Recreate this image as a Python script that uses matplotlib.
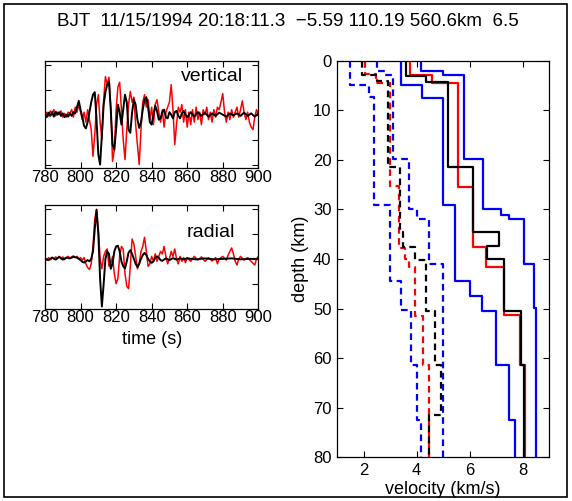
import numpy as np
import matplotlib
matplotlib.use("Agg")
import matplotlib.pyplot as plt
from matplotlib.patches import Rectangle

plt.rcParams["font.family"] = ["Liberation Sans", "DejaVu Sans"]

TITLE = "BJT  11/15/1994 20:18:11.3  \u22125.59 110.19 560.6km  6.5"

# ---- seismograms (time s, normalized amplitude) ----
vert_black_t = [780, 781, 782, 783, 784, 785, 786, 787, 788, 789, 790, 791, 792, 793, 794, 795, 796, 797,
                798, 799, 800, 801, 802, 803, 804, 805, 806, 807, 808, 809, 810, 811, 812, 813, 814, 815,
                816, 817, 818, 819, 820, 821, 822, 823, 824, 825, 826, 827, 828, 829, 830, 831, 832, 833,
                834, 835, 836, 837, 838, 839, 840, 841, 842, 843, 844, 845, 846, 847, 848, 849, 850, 851,
                852, 853, 854, 855, 856, 857, 858, 859, 860, 862, 864, 866, 868, 870, 872, 874, 876, 878,
                880, 882, 884, 886, 888, 890, 892, 894, 896, 898, 900]
vert_black_a = [0.05, -0.1, 0.08, -0.05, 0.1, -0.08, 0.12, 0.0, 0.1, -0.05, 0.05, -0.1, 0.0, -0.08, 0.05,
                -0.05, 0.1, 0.05, 0.3, 0.55, 0.2, -0.1, -0.45, -0.55, -0.3, 0.1, 0.5, 0.8, 0.9, -0.2, -1.6,
                -2.0, -0.8, 0.4, 0.9, 1.2, 1.33, 0.2, -1.2, -1.4, -0.6, 0.4, 0.1, -0.4, 0.2, 0.8, 0.5, -0.6,
                -0.73, 0.1, 0.6, 0.4, -0.2, -0.53, -0.3, 0.2, 0.6, 0.7, 0.3, -0.3, -0.4, 0.0, 0.36, 0.15,
                -0.2, -0.15, 0.1, 0.2, -0.1, -0.15, 0.1, 0.0, -0.15, 0.1, 0.15, -0.05, -0.15, 0.05, 0.15,
                0.0, -0.1, 0.1, -0.08, 0.1, -0.05, 0.08, -0.08, 0.05, -0.05, 0.08, 0.0, -0.08, 0.05, -0.03,
                0.05, -0.05, 0.08, -0.05, 0.05, -0.08, 0.05]

vert_red_t = list(range(780, 901))
vert_red_a = [-0.1, 0.1, -0.05, 0.15, 0.05, 0.2, -0.05, 0.1, 0.0, 0.15, -0.1, 0.05, -0.1, 0.1, 0.05, 0.2,
              -0.1, 0.3, 0.1, 0.4, 0.1, -0.2, 0.1, -0.3, 0.2, -0.2, -0.6, -1.67, -0.8, 0.4, 0.8, -0.3,
              -1.0, 0.6, 1.53, 1.2, 1.5, 0.3, -1.87, -1.4, 0.2, 1.1, 1.3, 0.2, -1.0, -1.8, -0.6, 0.4,
              0.93, 0.5, 0.7, -0.4, -1.2, -2.0, -0.6, 0.5, 0.8, 0.3, 0.6, -0.2, 0.3, -0.4, 0.4, 0.6, 0.1,
              -0.3, 0.2, -0.5, 0.1, 0.3, 0.5, 1.2, 0.2, -1.2, -0.4, 0.3, 0.1, 0.4, -0.3, 0.2, -0.5, 0.1,
              -0.4, 0.2, -0.3, 0.3, -0.2, 0.1, -0.4, 0.2, 0.0, 0.3, -0.2, 0.1, -0.3, 0.2, -0.1, 0.3, 0.2,
              0.5, 0.84, 0.1, -0.3, 0.1, -0.2, 0.2, -0.1, 0.1, 0.3, -0.1, 0.2, 0.55, 0.1, -0.2, 0.1, -0.3,
              -0.5, -0.6, -0.1, 0.2, 0.0]

rad_black_t = [780, 782, 784, 786, 788, 790, 792, 794, 796, 798, 800, 801, 802, 803, 804, 805, 806, 807,
               808, 809, 810, 811, 812, 813, 814, 815, 816, 817, 818, 819, 820, 821, 822, 823, 824, 825,
               826, 827, 828, 829, 830, 831, 832, 833, 834, 835, 836, 837, 838, 839, 840, 841, 842, 843,
               844, 845, 846, 848, 850, 852, 854, 856, 858, 860, 865, 870, 875, 880, 885, 890, 895, 900]
rad_black_a = [0.0, -0.05, 0.05, -0.03, 0.08, -0.03, 0.05, 0.02, 0.08, 0.05, -0.05, -0.12, -0.15, -0.1,
               -0.05, -0.1, 0.0, 0.3, 1.2, 1.97, 1.0, -0.8, -1.92, -1.0, 0.0, 0.3, 0.2, -0.4, -0.2, 0.3,
               0.5, 0.53, 0.3, -0.1, -0.3, -0.39, -0.1, 0.25, 0.35, 0.2, 0.0, -0.2, -0.32, -0.2, 0.0,
               0.15, 0.24, 0.15, 0.0, -0.1, -0.16, -0.1, 0.05, 0.1, 0.05, -0.05, -0.08, 0.02, -0.05, 0.03,
               -0.03, 0.02, -0.02, 0.02, -0.02, 0.02, -0.02, 0.0, 0.02, -0.02, 0.0, 0.0]

rad_red_t = list(range(780, 861)) + [862, 864, 866, 868, 870, 872, 874, 876, 877, 878, 880, 882, 883, 884,
                                     885, 886, 887, 888, 889, 890, 892, 894, 896, 898, 899, 900]
rad_red_a = [0.02, -0.05, 0.05, -0.03, 0.06, 0.0, 0.08, 0.02, 0.1, 0.0, 0.08, -0.03, 0.05, 0.1, 0.03,
             0.08, 0.12, 0.05, 0.1, 0.0, 0.05, -0.05, 0.05, -0.2, -0.35, -0.43, -0.2, 0.5, 1.6, 2.0, 1.2,
             0.0, -0.4, 0.1, 0.3, 0.4, -0.3, -0.2, 0.1, -0.6, -1.0, -0.8, 0.1, 0.5, 0.4, -0.6, -1.1, -1.2,
             -0.3, 0.8, 0.6, 0.1, -0.4, -0.2, 0.3, 0.5, 0.87, 0.3, -0.3, -0.2, 0.1, -0.1, 0.2, -0.1, 0.1,
             0.3, 0.2, 0.5, 0.1, -0.2, 0.0, 0.3, 0.1, 0.4, 0.0, -0.2, 0.1, -0.1, 0.05, -0.15, 0.05,
             -0.1, 0.1, -0.05, 0.08, -0.1, 0.05, -0.08, 0.05, -0.2, 0.0, 0.1, -0.05, 0.15, 0.3, 0.44,
             0.2, -0.1, -0.25, 0.0, 0.1, -0.05, 0.05, -0.1, -0.25, 0.0, 0.1]

# ---- velocity profiles: layer boundaries (km) and layer velocities (km/s) ----
p_black_z = [0, 3.0, 4.2, 21.4, 34.6, 37.3, 40.1, 50.5, 61.4, 80]
p_black_v = [3.6, 4.35, 5.2, 6.15, 7.1, 6.65, 7.3, 7.95, 8.07]
p_red_z = [0, 2.9, 4.4, 25.4, 37.5, 41.7, 51.3, 61.4, 80]
p_red_v = [3.76, 4.6, 5.57, 6.15, 6.61, 7.3, 7.92, 8.1]
p_blue_lo_z = [0, 4.9, 7.5, 29.2, 44.4, 47.4, 50.4, 61.4, 72.4, 80]
p_blue_lo_v = [3.4, 4.2, 5.0, 5.46, 6.0, 6.46, 7.0, 7.5, 7.7]
p_blue_hi_z = [0, 2.0, 2.9, 19.8, 29.9, 31.1, 31.9, 41.0, 49.9, 80]
p_blue_hi_v = [4.17, 5.0, 5.8, 6.5, 7.17, 7.5, 8.04, 8.42, 8.5]

s_black_z = [0, 2.9, 4.1, 21.4, 34.5, 37.5, 40.2, 50.5, 61.4, 71.5, 80]
s_black_v = [1.95, 2.5, 2.93, 3.36, 3.49, 3.96, 4.34, 4.7, 4.92, 4.46]
s_red_z = [0, 2.7, 4.4, 25.3, 37.8, 39.9, 41.7, 51.5, 61.4, 80]
s_red_v = [2.05, 2.46, 3.0, 3.33, 3.55, 3.71, 3.96, 4.26, 4.46]
s_blue_lo_z = [0, 4.9, 7.3, 29.2, 44.4, 50.3, 61.4, 72.4, 80]
s_blue_lo_v = [1.5, 2.2, 2.4, 3.0, 3.4, 3.78, 4.0, 4.17]
s_blue_hi_z = [0, 2.0, 2.9, 19.9, 29.9, 31.9, 41.0, 80]
s_blue_hi_v = [2.51, 2.8, 3.11, 3.71, 4.0, 4.49, 5.0]


def profile(z, v):
    """layer model -> staircase (velocity, depth) for plotting"""
    zz = np.repeat(np.asarray(z, float), 2)[1:-1]
    vv = np.repeat(np.asarray(v, float), 2)
    return vv, zz


W, H = 572, 501
fig = plt.figure(figsize=(W / 100, H / 100), dpi=100)
fig.add_artist(Rectangle((4 / W, 1 - 497 / H), 563 / W, 493 / H, transform=fig.transFigure,
                         fill=False, lw=1.2, ec="black"))
fig.text(288 / W, 1 - 21 / H, TITLE, ha="center", va="center", fontsize=13.5)


def seis_axes(rect, ylim):
    ax = fig.add_axes(rect)
    ax.set_xlim(780, 900)
    ax.set_ylim(*ylim)
    ax.set_xticks(range(780, 901, 20))
    ax.set_yticks([-2, -1, 0, 1, 2])
    ax.set_yticklabels([])
    ax.tick_params(direction="in", top=True, right=True, length=4, width=0.8, labelsize=12, pad=1)
    for s in ax.spines.values():
        s.set_linewidth(0.9)
    return ax


ax1 = seis_axes([45 / W, 1 - 168.3 / H, 213.3 / W, 107.3 / H], (-2.15, 2.15))
ax1.plot(vert_red_t, vert_red_a, color="red", lw=1.1)
ax1.plot(vert_black_t, vert_black_a, color="black", lw=1.4)
ax1.text(0.93, 0.86, "vertical", transform=ax1.transAxes, ha="right", va="center", fontsize=14)

ax2 = seis_axes([45 / W, 1 - 309 / H, 213.3 / W, 104 / H], (-2.02, 2.17))
ax2.plot(rad_red_t, rad_red_a, color="red", lw=1.1)
ax2.plot(rad_black_t, rad_black_a, color="black", lw=1.4)
ax2.text(0.89, 0.74, "radial", transform=ax2.transAxes, ha="right", va="center", fontsize=14)
ax2.set_xlabel("time (s)", fontsize=13, labelpad=4)

ax3 = fig.add_axes([337 / W, 1 - 457.3 / H, 212 / W, 396.6 / H])
dash = (3, 2)
for z, v, c in [(s_blue_lo_z, s_blue_lo_v, "blue"), (s_blue_hi_z, s_blue_hi_v, "blue"),
                (s_red_z, s_red_v, "red"), (s_black_z, s_black_v, "black")]:
    x, y = profile(z, v)
    ax3.plot(x, y, color=c, lw=1.6, ls=(0, dash))
for z, v, c in [(p_blue_lo_z, p_blue_lo_v, "blue"), (p_blue_hi_z, p_blue_hi_v, "blue"),
                (p_red_z, p_red_v, "red"), (p_black_z, p_black_v, "black")]:
    x, y = profile(z, v)
    ax3.plot(x, y, color=c, lw=1.6)
ax3.set_xlim(1, 9)
ax3.set_ylim(80, 0)
ax3.set_xticks([2, 4, 6, 8])
ax3.set_yticks(range(0, 81, 10))
ax3.tick_params(direction="in", top=True, right=True, length=4, width=0.8, labelsize=12, pad=4)
for s in ax3.spines.values():
    s.set_linewidth(0.9)
ax3.set_xlabel("velocity (km/s)", fontsize=13)
ax3.set_ylabel("depth (km)", fontsize=13)
ax3.xaxis.set_label_coords(0.5, -0.06)
ax3.yaxis.set_label_coords(-0.13, 0.5)

fig.savefig("out.png", dpi=100)
